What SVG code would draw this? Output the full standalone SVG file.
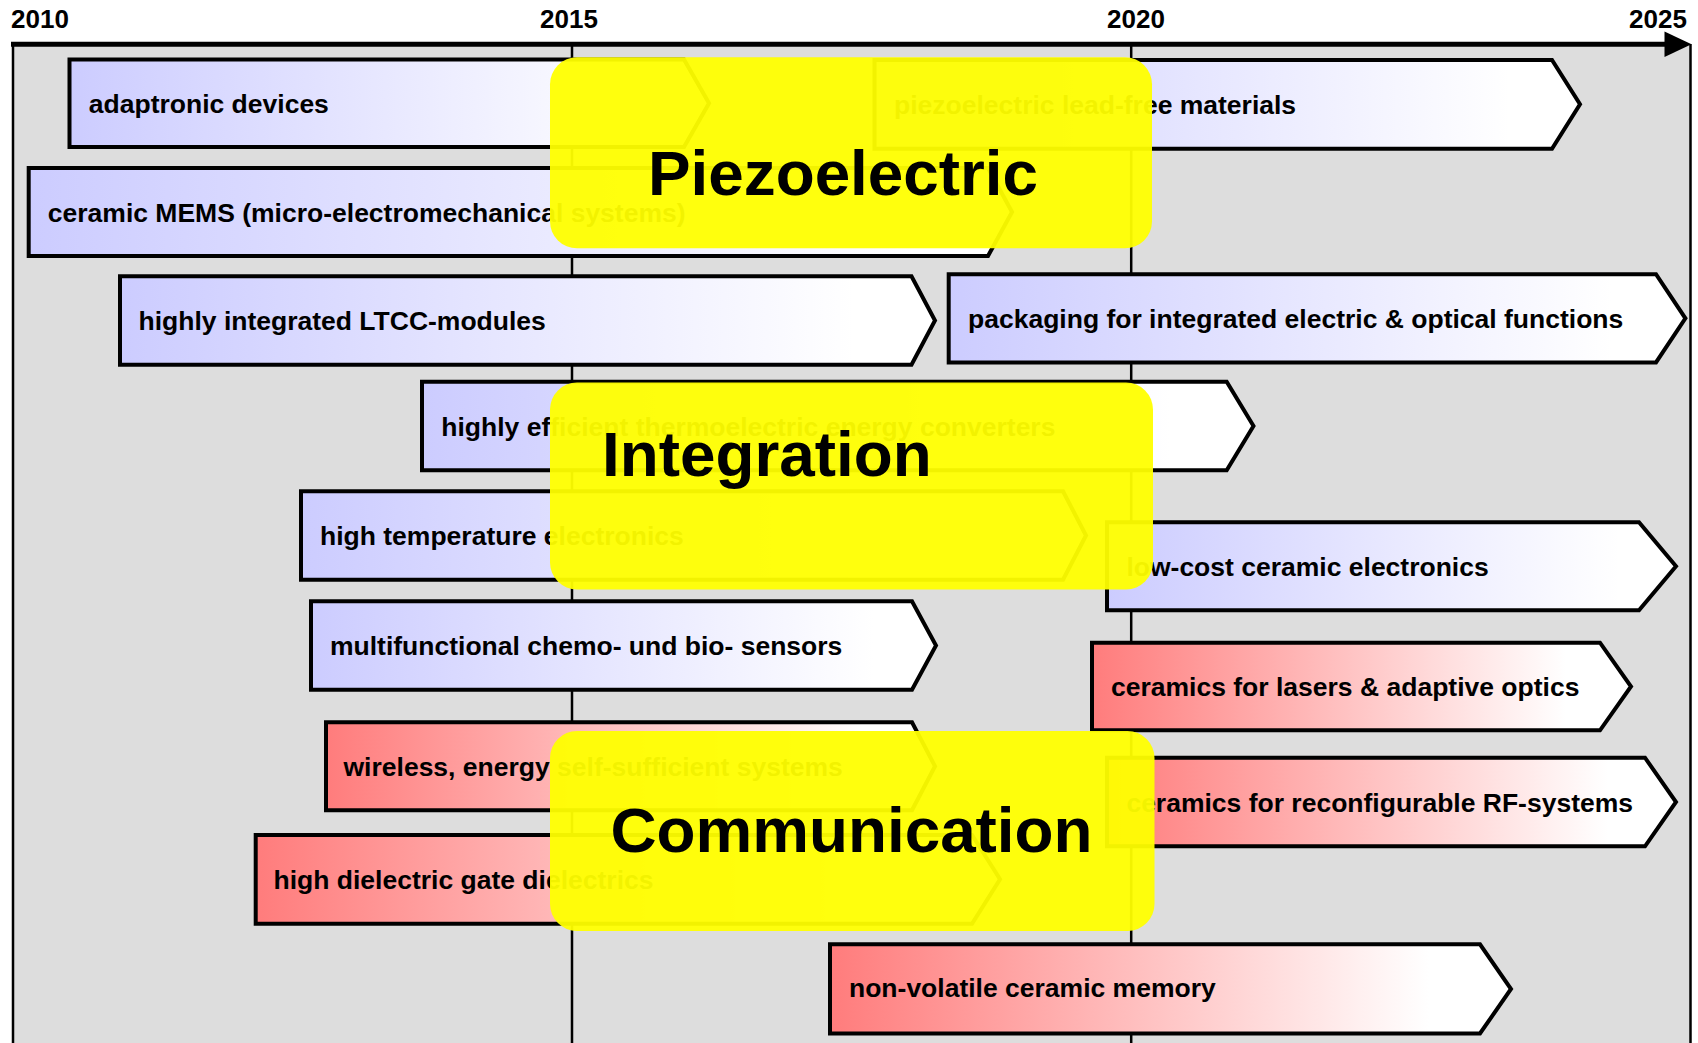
<svg xmlns="http://www.w3.org/2000/svg" width="1698" height="1043" viewBox="0 0 1698 1043">
<style>
text{font-family:"Liberation Sans",Arial,sans-serif;font-weight:bold;fill:#000}
.yr{font-size:26px}
.lbl{font-size:26.5px}
.ttl{font-size:63.8px}
.box{stroke:#000;stroke-width:4;stroke-linejoin:miter}
.blue{fill:url(#gBlue)}
.red{fill:url(#gRed)}
.grid{stroke:#000;stroke-width:2.5;fill:none}
.hl{fill:#ffff00;fill-opacity:0.95}
</style>
<defs>
<linearGradient id="gBlue" x1="0" y1="0" x2="1" y2="0">
<stop offset="0" stop-color="#ccccff"/>
<stop offset="0.9" stop-color="#ffffff"/>
</linearGradient>
<linearGradient id="gRed" x1="0" y1="0" x2="1" y2="0">
<stop offset="0" stop-color="#ff7c7c"/>
<stop offset="0.88" stop-color="#ffffff"/>
</linearGradient>
</defs>
<rect x="0" y="0" width="1698" height="1043" fill="#ffffff"/>
<rect x="13" y="44" width="1677.5" height="999" fill="#dddddd"/>
<g id="connectors">
<line class="grid" x1="13" y1="44" x2="13" y2="1043"/>
<line class="grid" x1="572" y1="44" x2="572" y2="1043"/>
<line class="grid" x1="1131.2" y1="44" x2="1131.2" y2="1043"/>
<line class="grid" x1="1690.5" y1="44" x2="1690.5" y2="1043"/>
<line id="axis" x1="11" y1="44.2" x2="1665" y2="44.2" stroke="#000" stroke-width="5"/>
<polygon points="1664.5,31.5 1691.5,44.2 1664.5,57" fill="#000"/>
</g>
<g id="years">
<text class="yr" x="11" y="28.3">2010</text>
<text class="yr" x="540" y="28.3">2015</text>
<text class="yr" x="1107" y="28.3">2020</text>
<text class="yr" x="1629" y="28.3">2025</text>
</g>
<g id="n-adaptronic">
<polygon class="box blue" points="69.5,59.5 684,59.5 709,103.3 684,147 69.5,147"/>
<text class="lbl" x="88.8" y="113">adaptronic devices</text>
</g>
<g id="n-leadfree">
<polygon class="box blue" points="874.5,60 1552,60 1580,104.3 1552,148.7 874.5,148.7"/>
<text class="lbl" x="894" y="113.5">piezoelectric lead-free materials</text>
</g>
<g id="n-mems">
<polygon class="box blue" points="28.7,168 988,168 1012,212 988,256 28.7,256"/>
<text class="lbl" x="47.8" y="221.5">ceramic MEMS (micro-electromechanical systems)</text>
</g>
<g id="n-ltcc">
<polygon class="box blue" points="120,276.3 911.5,276.3 935,320.5 911.5,364.7 120,364.7"/>
<text class="lbl" x="138.5" y="330">highly integrated LTCC-modules</text>
</g>
<g id="n-packaging">
<polygon class="box blue" points="948.7,274.2 1656,274.2 1685.4,318.3 1656,362.4 948.7,362.4"/>
<text class="lbl" x="968" y="328">packaging for integrated electric &amp; optical functions</text>
</g>
<g id="n-thermo">
<polygon class="box blue" points="422,381.7 1226.7,381.7 1253.5,426 1226.7,470.3 422,470.3"/>
<text class="lbl" x="441.3" y="436">highly efficient thermoelectric energy converters</text>
</g>
<g id="n-hightemp">
<polygon class="box blue" points="301,491.3 1063,491.3 1086,535.5 1063,579.7 301,579.7"/>
<text class="lbl" x="320" y="545">high temperature electronics</text>
</g>
<g id="n-lowcost">
<polygon class="box blue" points="1107,522.3 1639,522.3 1676,566.3 1639,610.3 1107,610.3"/>
<text class="lbl" x="1126.4" y="576">low-cost ceramic electronics</text>
</g>
<g id="n-multi">
<polygon class="box blue" points="311,601.3 912,601.3 936,645.5 912,689.7 311,689.7"/>
<text class="lbl" x="330" y="655">multifunctional chemo- und bio- sensors</text>
</g>
<g id="n-lasers">
<polygon class="box red" points="1092,642.7 1600,642.7 1631,686.5 1600,730.3 1092,730.3"/>
<text class="lbl" x="1111" y="695.5">ceramics for lasers &amp; adaptive optics</text>
</g>
<g id="n-wireless">
<polygon class="box red" points="326,722.3 912,722.3 935,766.3 912,810.3 326,810.3"/>
<text class="lbl" x="343.5" y="775.5">wireless, energy self-sufficient systems</text>
</g>
<g id="n-rf">
<polygon class="box red" points="1107,757.7 1645,757.7 1676,802 1645,846.3 1107,846.3"/>
<text class="lbl" x="1126.4" y="811.5">ceramics for reconfigurable RF-systems</text>
</g>
<g id="n-dielectric">
<polygon class="box red" points="255.7,835 972,835 1000,879.3 972,923.7 255.7,923.7"/>
<text class="lbl" x="273.5" y="888.5">high dielectric gate dielectrics</text>
</g>
<g id="n-nonvolatile">
<polygon class="box red" points="830,944.3 1480,944.3 1511,989 1480,1033.5 830,1033.5"/>
<text class="lbl" x="849" y="997">non-volatile ceramic memory</text>
</g>
<g id="n-piezoelectric">
<rect class="hl" x="550" y="57.3" width="602" height="191" rx="27" ry="27"/>
<text class="ttl" x="648" y="195">Piezoelectric</text>
</g>
<g id="n-integration">
<rect class="hl" x="550" y="382.5" width="603" height="207" rx="27" ry="27"/>
<text class="ttl" x="602" y="476">Integration</text>
</g>
<g id="n-communication">
<rect class="hl" x="550" y="731" width="604.5" height="200" rx="27" ry="27"/>
<text class="ttl" x="610.5" y="851.7">Communication</text>
</g>
</svg>
